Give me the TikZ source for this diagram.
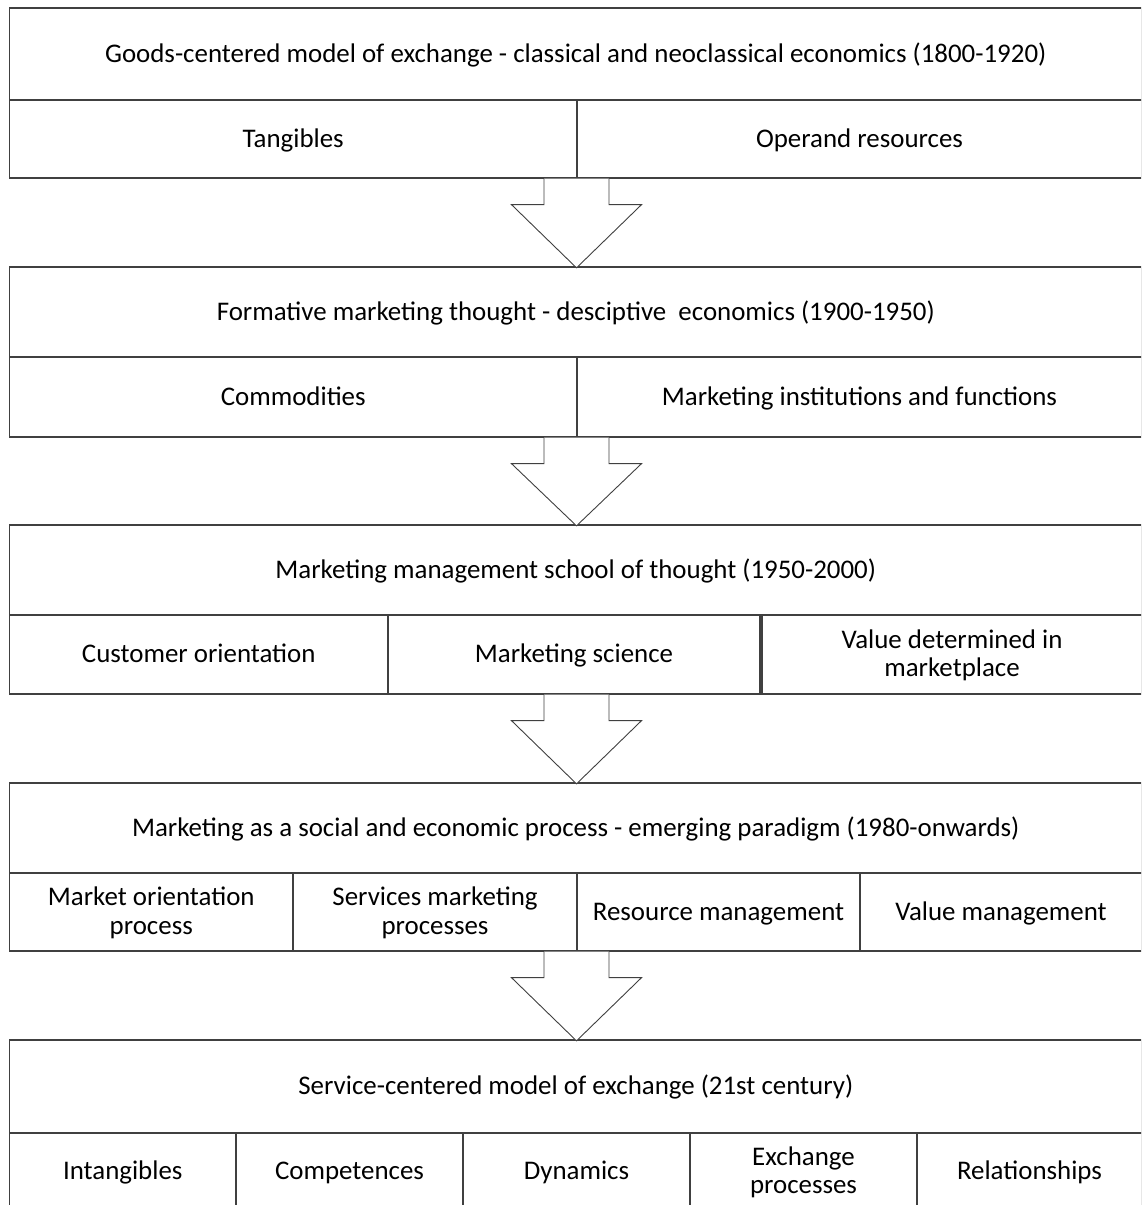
\documentclass[tikz,border=0pt]{standalone}
\usepackage{fontspec}
\setmainfont{Carlito}
\usetikzlibrary{calc}
\newcommand{\ms}{\rule[-6pt]{0pt}{28pt}}
\begin{document}
\begin{tikzpicture}[x=1pt,y=-1pt,
  cell/.style={draw=black!75, line width=1.3pt, rectangle, inner sep=0pt, align=center,
    font=\fontsize{26.9}{28.5}\selectfont, text=black},
  arr/.style={draw=black!75, line width=0.9pt, fill=white, line join=miter}]
\useasboundingbox (0,0) rectangle (1141,1205);
\clip (0,0) rectangle (1141,1205);
\newcommand{\mycell}[6]{%
  \node[cell, minimum width={#3-#1}, minimum height={#4-#2}] (#5) at ({(#1+#3)/2},{(#2+#4)/2}) {#6};}
% block 1
\mycell{9.5}{8}{1142}{100}{t1}{\ms Goods-centered model of exchange - classical and neoclassical economics (1800-1920)}
\mycell{9.5}{100}{577}{178}{t1a}{\ms Tangibles}
\mycell{577}{100}{1142}{178}{t1b}{\ms Operand resources}
% block 2
\mycell{9.5}{267}{1142}{357}{t2}{\ms Formative marketing thought - desciptive\ \ economics (1900-1950)}
\mycell{9.5}{357}{577}{437}{t2a}{\ms Commodities}
\mycell{577}{357}{1142}{437}{t2b}{\ms Marketing institutions and functions}
% block 3
\mycell{9.5}{525}{1142}{615}{t3}{\ms Marketing management school of thought (1950-2000)}
\mycell{9.5}{615}{388}{694}{t3a}{\ms Customer orientation}
\mycell{388}{615}{760}{694}{t3b}{\ms Marketing science}
\mycell{762}{615}{1142}{694}{t3c}{\ms Value determined in\\\ms marketplace}
% block 4
\mycell{9.5}{783}{1142}{873}{t4}{\ms Marketing as a social and economic process - emerging paradigm (1980-onwards)}
\mycell{9.5}{873}{293}{951}{t4a}{\ms Market orientation\\\ms process}
\mycell{293}{873}{577}{951}{t4b}{\ms Services marketing\\\ms processes}
\mycell{577}{873}{860}{951}{t4c}{\ms Resource management}
\mycell{860}{873}{1142}{951}{t4d}{\ms Value management}
% block 5
\mycell{9.5}{1040}{1142}{1133}{t5}{\ms Service-centered model of exchange (21st century)}
\mycell{9.5}{1133}{236}{1210}{t5a}{\ms Intangibles}
\mycell{236}{1133}{463}{1210}{t5b}{\ms Competences}
\mycell{463}{1133}{690}{1210}{t5c}{\ms Dynamics}
\mycell{690}{1133}{917}{1210}{t5d}{\ms Exchange\\\ms processes}
\mycell{917}{1133}{1142}{1210}{t5e}{\ms Relationships}
% block arrows
\newcommand{\bigarrow}[2]{%
  \coordinate (s) at (576.5,0 |- #1.south);
  \coordinate (e) at (576.5,0 |- #2.north);
  \draw[arr] ($(s)+(-32.5,0)$) -- ($(s)+(-32.5,26)$) -- ($(s)+(-65,26)$) -- ($(e)+(0,1.5)$)
     -- ($(s)+(65,26)$) -- ($(s)+(32.5,26)$) -- ($(s)+(32.5,0)$);}
\bigarrow{t1a}{t2}
\bigarrow{t2a}{t3}
\bigarrow{t3a}{t4}
\bigarrow{t4a}{t5}
\end{tikzpicture}
\end{document}
